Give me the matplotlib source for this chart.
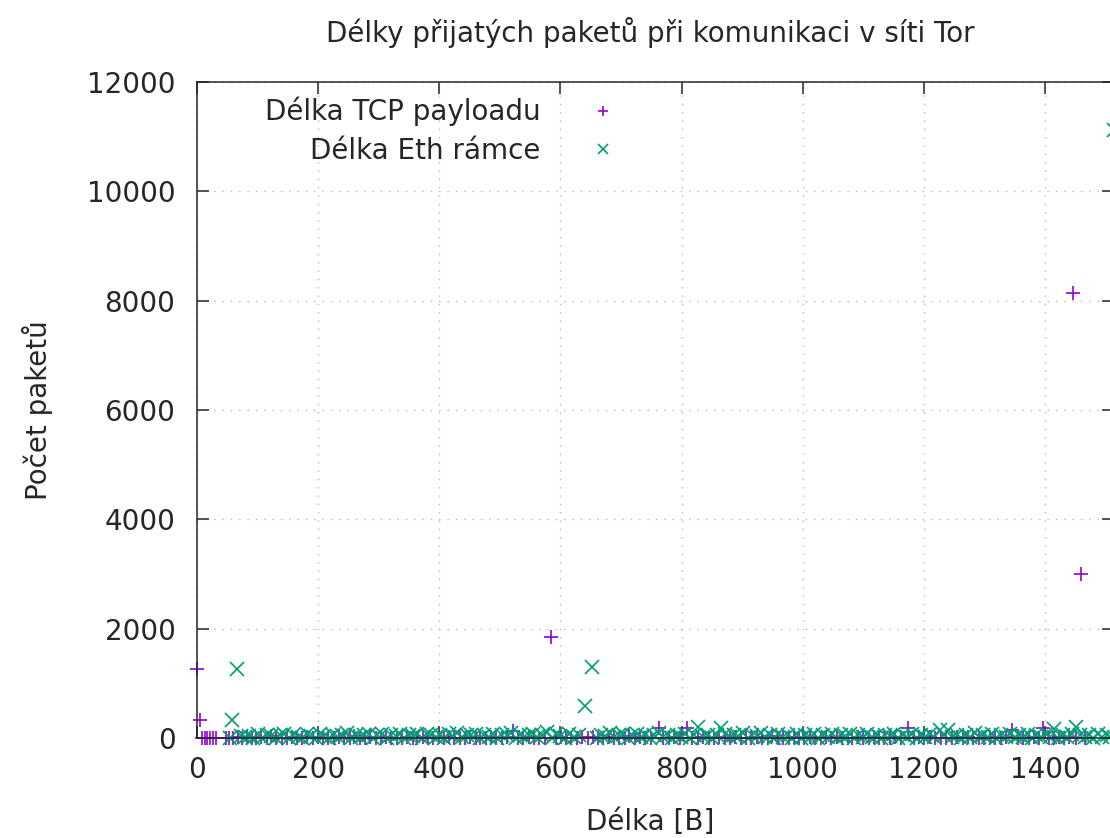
import matplotlib
matplotlib.use('Agg')
import matplotlib.pyplot as plt

# Délky paketů (gnuplot-like scatter), counts.
title = 'Délky přijatých paketů při komunikaci v síti Tor'
xlabel = 'Délka [B]'
ylabel = 'Počet paketů'
tcp_label = 'Délka TCP payloadu'
eth_label = 'Délka Eth rámce'

# (length in bytes, packet count) for TCP payload
tcp_points = [
    (0, 1262), (5, 330), (9, 4), (13, 2), (17, 6), (22, 3), (27, 1), (32, 5),
    (48, 2), (53, 8), (60, 3), (68, 12), (75, 5), (83, 20), (90, 7), (98, 3),
    (106, 15), (115, 6), (123, 28), (131, 4), (140, 9), (148, 2), (157, 18),
    (165, 6), (174, 3), (182, 11), (191, 5), (200, 24), (208, 2), (217, 8),
    (226, 4), (234, 16), (243, 3), (252, 7), (260, 30), (269, 5), (278, 2),
    (286, 12), (295, 6), (304, 3), (312, 22), (321, 4), (330, 9), (338, 2),
    (347, 14), (356, 5), (364, 3), (373, 26), (382, 7), (390, 2), (399, 10),
    (408, 4), (416, 18), (425, 3), (434, 6), (442, 2), (451, 20), (460, 5),
    (468, 8), (477, 3), (486, 12), (494, 4), (503, 2), (512, 16), (522, 130),
    (530, 6), (539, 3), (548, 25), (556, 4), (565, 9), (574, 2), (584, 1848),
    (592, 5), (601, 14), (610, 3), (618, 7), (627, 2), (636, 22), (645, 4),
    (653, 10), (662, 3), (671, 6), (680, 18), (688, 2), (697, 8), (706, 4),
    (714, 28), (723, 3), (732, 11), (740, 5), (749, 2), (762, 190), (770, 6),
    (779, 3), (788, 15), (797, 4), (809, 180), (818, 7), (827, 2), (836, 20),
    (845, 5), (854, 3), (862, 12), (871, 6), (880, 2), (889, 24), (898, 4),
    (906, 9), (915, 3), (924, 16), (933, 5), (942, 2), (950, 30), (959, 4),
    (968, 8), (977, 3), (986, 14), (994, 6), (1003, 2), (1012, 19), (1021, 5),
    (1030, 3), (1038, 10), (1047, 4), (1056, 22), (1065, 2), (1074, 7),
    (1082, 3), (1091, 13), (1100, 5), (1109, 2), (1118, 26), (1126, 4),
    (1135, 9), (1144, 3), (1153, 17), (1162, 6), (1174, 180), (1183, 2),
    (1192, 11), (1201, 4), (1210, 21), (1219, 3), (1228, 8), (1237, 5),
    (1246, 2), (1255, 15), (1264, 4), (1273, 27), (1282, 3), (1291, 6),
    (1300, 2), (1309, 12), (1318, 5), (1327, 3), (1336, 18), (1346, 150),
    (1355, 4), (1364, 9), (1373, 2), (1382, 23), (1390, 5), (1397, 180),
    (1406, 7), (1415, 3), (1424, 14), (1432, 4), (1440, 20), (1446, 8140),
    (1452, 6), (1459, 3000), (1466, 2),
]

# (length in bytes, packet count) for Ethernet frame
eth_points = [
    (54, 8), (58, 330), (66, 1262), (72, 40), (79, 12), (86, 35), (93, 5),
    (100, 70), (108, 2), (115, 58), (122, 30), (130, 6), (137, 48),
    (144, 75), (152, 8), (159, 52), (166, 20), (174, 3), (181, 68),
    (188, 45), (196, 7), (203, 72), (210, 36), (218, 4), (225, 64),
    (232, 10), (240, 58), (247, 94), (254, 4), (262, 61), (269, 17),
    (276, 55), (284, 80), (291, 9), (298, 53), (306, 66), (313, 4),
    (320, 59), (328, 31), (335, 82), (342, 9), (350, 56), (357, 37),
    (364, 65), (372, 3), (379, 78), (386, 52), (394, 15), (401, 60),
    (408, 6), (416, 69), (423, 33), (430, 87), (438, 11), (445, 63),
    (452, 50), (460, 74), (467, 6), (474, 55), (482, 25), (489, 67),
    (496, 9), (504, 58), (511, 48), (518, 91), (526, 4), (533, 62),
    (540, 14), (548, 53), (555, 76), (562, 10), (570, 57), (578, 110),
    (586, 7), (593, 65), (600, 38), (608, 4), (615, 70), (622, 13),
    (630, 59), (640, 585), (652, 1300), (660, 6), (667, 61), (674, 29),
    (682, 83), (689, 11), (696, 56), (704, 66), (711, 5), (718, 52),
    (726, 78), (733, 14), (740, 60), (748, 8), (755, 57), (762, 89),
    (770, 12), (777, 54), (784, 3), (792, 64), (799, 27), (806, 72),
    (814, 9), (821, 58), (827, 200), (836, 15), (843, 62), (850, 6),
    (858, 55), (865, 180), (872, 70), (880, 11), (887, 59), (894, 28),
    (901, 90), (909, 7), (916, 63), (924, 32), (931, 85), (938, 10),
    (946, 57), (953, 4), (960, 68), (968, 25), (975, 60), (982, 9),
    (990, 72), (997, 8), (1004, 56), (1012, 16), (1019, 65), (1026, 3),
    (1034, 58), (1041, 23), (1048, 80), (1056, 9), (1063, 61), (1070, 30),
    (1078, 76), (1085, 6), (1092, 54), (1100, 15), (1107, 67), (1114, 11),
    (1122, 59), (1129, 4), (1136, 63), (1144, 28), (1151, 81), (1158, 8),
    (1166, 56), (1173, 14), (1180, 66), (1188, 7), (1195, 60), (1202, 21),
    (1210, 73), (1217, 12), (1227, 150), (1233, 57), (1240, 150), (1247, 16),
    (1254, 64), (1262, 5), (1269, 58), (1276, 19), (1284, 84), (1291, 10),
    (1298, 55), (1306, 25), (1313, 68), (1320, 6), (1328, 61), (1335, 22),
    (1342, 77), (1350, 11), (1357, 57), (1364, 17), (1372, 66), (1379, 4),
    (1386, 60), (1394, 20), (1401, 72), (1408, 13), (1415, 160), (1422, 9),
    (1430, 56), (1437, 16), (1444, 69), (1451, 200), (1458, 62), (1466, 14),
    (1473, 58), (1480, 7), (1488, 65), (1495, 18), (1502, 55), (1508, 10),
    (1514, 11120),
]

tcp_len, tcp_cnt = zip(*tcp_points)
eth_len, eth_cnt = zip(*eth_points)

plt.rcParams['font.family'] = ['DejaVu Sans']
fs = 20
ink = '#262626'
W, H = 1110, 838
fig = plt.figure(figsize=(W / 100, H / 100), dpi=100)

# plot box in pixels: left 197, right 1114 (runs off the canvas), top 82, bottom 738
ax = fig.add_axes([197 / W, (H - 738) / H, (1114 - 197) / W, (738 - 82) / H])

# gnuplot does not clip points at the border
ax.plot(tcp_len, tcp_cnt, linestyle='none', marker='+', ms=9.5, mew=1.2,
        color='#9400D3', label=tcp_label, clip_on=False)
ax.plot(eth_len, eth_cnt, linestyle='none', marker='x', ms=9.5, mew=1.2,
        color='#009E73', label=eth_label, clip_on=False)

ax.set_xlim(0, 1514)
ax.set_ylim(0, 12000)
ax.set_xticks(range(0, 1401, 200))
ax.set_yticks(range(0, 12001, 2000))
ax.tick_params(direction='in', length=8.6, width=1.1, labelsize=fs,
               top=True, right=True, color=ink, labelcolor=ink)
ax.tick_params(axis='x', pad=13)
ax.tick_params(axis='y', pad=15.5)
for s in ax.spines.values():
    s.set_linewidth(1.1)
    s.set_color(ink)

ax.grid(True, color='#b8b8b8', linestyle=(0, (1, 5)), linewidth=1.0)
ax.set_axisbelow(True)

leg = ax.legend(loc='upper right', bbox_to_anchor=(617 / W, (H - 97) / H),
                bbox_transform=fig.transFigure, frameon=False, fontsize=fs,
                markerfirst=False, handlelength=1.0, handletextpad=1.75,
                labelspacing=0.38, borderpad=0, borderaxespad=0,
                markerscale=0.8)
for t in leg.get_texts():
    t.set_color(ink)

fig.text(650 / W, (H - 33) / H, title, ha='center', va='center',
         fontsize=fs, color=ink)
fig.text(650 / W, (H - 822) / H, xlabel, ha='center', va='center',
         fontsize=fs, color=ink)
fig.text(38 / W, (H - 410) / H, ylabel, ha='center', va='center',
         rotation=90, fontsize=fs, color=ink)

fig.savefig('out.png', dpi=100)
